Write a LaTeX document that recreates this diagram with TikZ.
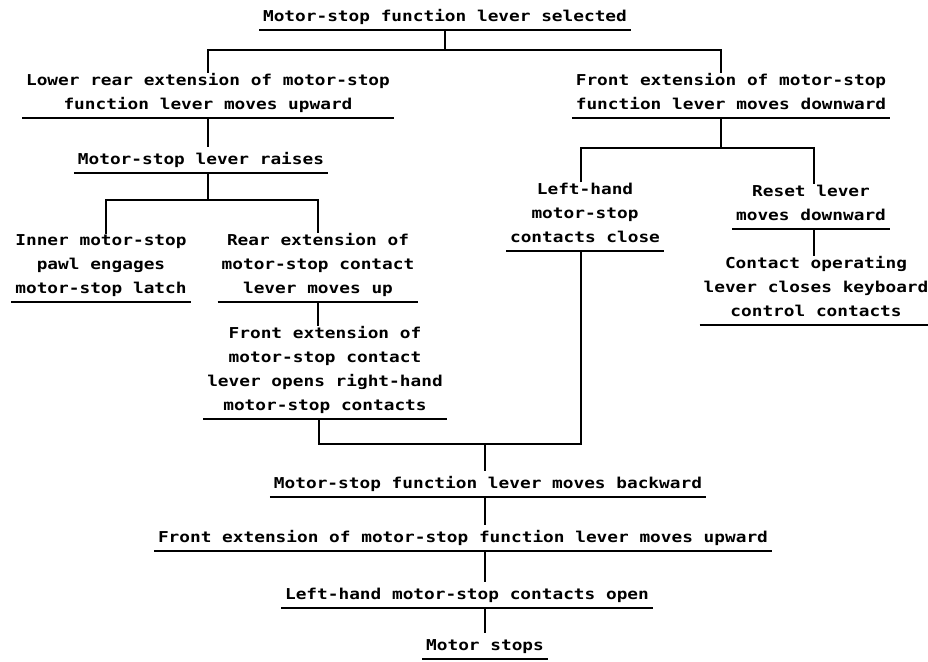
\documentclass[tikz,border=0pt]{standalone}
\usepackage{fontspec}
\newfontfamily\leroy[FakeStretch=1.185]{DejaVu Sans Mono}

\begin{document}
\begin{tikzpicture}[x=1pt, y=-1pt, line width=2pt,
		stage/.style={anchor=south, align=center, inner xsep=3pt, inner ysep=0pt,
			font=\leroy\bfseries\fontsize{15}{24}\selectfont,
			execute at begin node=\strut, execute at end node=\strut,
			append after command={(\tikzlastnode.south west) edge[draw] (\tikzlastnode.south east)}}]
		\useasboundingbox (0, 0) rectangle (928, 661);
		\node[stage] (selected) at (445, 30) {Motor-stop function lever selected};
		\node[stage] (lowerrear) at (208, 118) {Lower rear extension of motor-stop\\function lever moves upward};
		\node[stage] (frontdown) at (731, 118) {Front extension of motor-stop\\function lever moves downward};
		\node[stage] (raises) at (201, 173) {Motor-stop lever raises};
		\node[stage] (pawl) at (101, 302) {Inner motor-stop\\pawl engages\\motor-stop latch};
		\node[stage] (rearup) at (318, 302) {Rear extension of\\motor-stop contact\\lever moves up};
		\node[stage] (opens) at (325, 419) {Front extension of\\motor-stop contact\\lever opens right-hand\\motor-stop contacts};
		\node[stage] (leftclose) at (585, 251) {Left-hand\\motor-stop\\contacts close};
		\node[stage] (reset) at (811, 229) {Reset lever\\moves downward};
		\node[stage] (keyboard) at (816, 325) {Contact operating\\lever closes keyboard\\control contacts};
		\node[stage] (backward) at (488, 497) {Motor-stop function lever moves backward};
		\node[stage] (upward) at (463, 551) {Front extension of motor-stop function lever moves upward};
		\node[stage] (open) at (467, 608) {Left-hand motor-stop contacts open};
		\node[stage] (stops) at (485, 659) {Motor stops};
		\draw (selected.south) -- ++(0, 20) coordinate (fork1);
		\draw (lowerrear.north) |- (fork1) -| ([xshift=-10pt]frontdown.north);
		\draw (lowerrear.south) -- (lowerrear.south |- raises.north);
		\draw ([xshift=7pt]raises.south) -- ++(0, 27) coordinate (fork2);
		\draw ([xshift=5pt]pawl.north) |- (fork2) -| (rearup.north);
		\draw (rearup.south) -- (rearup.south |- opens.north);
		\draw ([xshift=-10pt]frontdown.south) -- ++(0, 30) coordinate (fork3);
		\draw ([xshift=-4pt]leftclose.north) |- (fork3) -| ([xshift=3pt]reset.north);
		\draw ([xshift=3pt]reset.south) -- ([xshift=3pt]reset.south |- keyboard.north);
		\coordinate (trunk) at (485, 444);
		\draw ([xshift=-6pt]opens.south) |- (trunk) -| ([xshift=-4pt]leftclose.south);
		\draw (trunk) -- (trunk |- backward.north);
		\draw (trunk |- backward.south) -- (trunk |- upward.north);
		\draw (trunk |- upward.south) -- (trunk |- open.north);
		\draw (trunk |- open.south) -- (trunk |- stops.north);
	\end{tikzpicture}
\end{document}
